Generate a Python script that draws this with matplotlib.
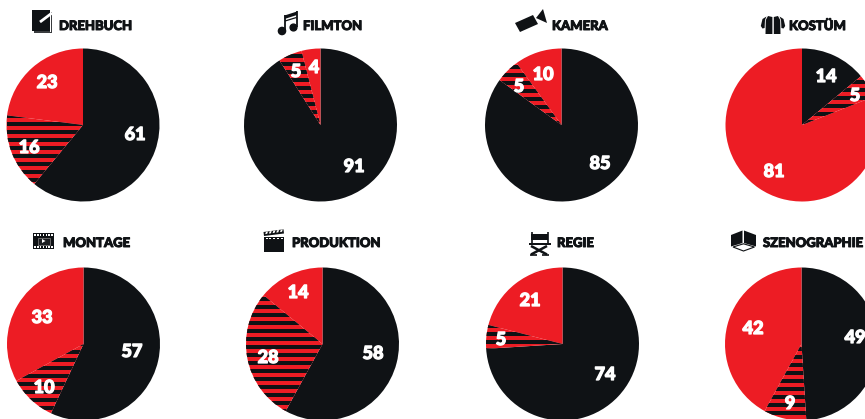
import matplotlib
matplotlib.use("Agg")
from matplotlib import pyplot as plt
from matplotlib import patheffects as pe
from matplotlib.patches import Polygon, Rectangle, Circle

plt.rcParams['font.family'] = ['Lato', 'DejaVu Sans']

BLACK = '#0f1215'
RED = '#ed1c24'
W, H = 865, 419

# shares in percent, going clockwise from twelve o'clock
titles = ['DREHBUCH', 'FILMTON', 'KAMERA', 'KOSTÜM',
          'MONTAGE', 'PRODUKTION', 'REGIE', 'SZENOGRAPHIE']
solid_black = [61, 91, 85, 14, 57, 58, 74, 49]
striped = [16, 5, 5, 5, 10, 28, 5, 9]
solid_red = [23, 4, 10, 81, 33, 14, 21, 42]

# layout in pixels
centers = [(83, 125), (320.5, 125), (561.5, 125), (802, 125),
           (83.5, 344), (322.5, 344), (562.5, 344), (801.5, 344)]
radius = 76.5
title_left = [59, 303, 552, 789, 63, 292, 557, 763]
title_y = [25, 25, 25, 25, 242, 242, 242, 242]
black_label_xy = [(135, 133), (354, 165), (600, 162), (826, 75),
                  (132, 350), (373, 352), (605, 373), (855, 336)]
striped_label_xy = [(29, 146), (296, 70), (519, 85), (855, 94),
                    (44, 386), (268, 356), (501, 338), (790, 402)]
red_label_xy = [(47, 81), (314, 66), (543, 73), (774, 170),
                (42, 316), (298, 291), (530, 299), (753, 327)]
stripe_period = 8.0
stripe_height = 3.9
stripe_phase = [7, 3, 6, 5, 0, 3.3, 6, 5.3]

fig = plt.figure(figsize=(W / 100, H / 100), dpi=100)


def draw_pie(i):
    cx, cy = centers[i]
    ax = fig.add_axes([(cx - radius) / W, 1 - (cy + radius) / H, 2 * radius / W, 2 * radius / H])
    values = [solid_black[i], striped[i], solid_red[i]]
    wedges, _ = ax.pie(values, colors=[BLACK, RED, RED], startangle=90, counterclock=False, radius=1)
    ax.set_xlim(-1, 1)
    ax.set_ylim(-1, 1)
    # black bands over the red middle wedge, phase counted downwards from the centre
    step = stripe_period / radius
    n = int(1 / step) + 2
    ys = [-(k * stripe_period + stripe_phase[i]) / radius for k in range(-n, n)]
    bars = ax.barh(ys, [2] * len(ys), height=stripe_height / radius, left=-1, color=BLACK, linewidth=0)
    for b in bars:
        b.set_clip_path(wedges[1])


for i in range(len(titles)):
    draw_pie(i)

# overlay in pixel coordinates for headings, numbers and icons
top = fig.add_axes([0, 0, 1, 1])
top.set_xlim(0, W)
top.set_ylim(H, 0)
top.axis('off')
top.patch.set_alpha(0)


def poly(points, color=BLACK):
    top.add_patch(Polygon(points, closed=True, facecolor=color, edgecolor='none'))


def rect(x, y, w, h, color=BLACK):
    top.add_patch(Rectangle((x, y), w, h, facecolor=color, edgecolor='none'))


def line(x0, y0, x1, y1, lw=1.5, color=BLACK):
    top.plot([x0, x1], [y0, y1], color=color, lw=lw, solid_capstyle='butt')


# script pages
rect(33.5, 12, 18.5, 21, '#3a3c3f')
rect(32, 10, 18, 21.5)
rect(32.8, 31.8, 18, 0.5, 'white')
rect(50.2, 12, 0.6, 20, 'white')
line(40, 22, 52, 13, lw=2, color='white')

# notes
top.add_patch(Circle((282, 31), 3.6, color=BLACK))
top.add_patch(Circle((293.5, 27.5), 3.4, color=BLACK))
line(285, 31, 285, 15.5, lw=1.3)
line(296.5, 27, 296.5, 11.5, lw=1.3)
poly([(284.5, 15.5), (297, 11.5), (297, 15), (284.5, 19)])
line(285, 21, 296.5, 17.5, lw=0.9)

# camera
poly([(515, 23), (533, 15), (538, 24), (520, 32)])
poly([(536, 18), (543, 9), (547, 23)])

# costume: body halves and sleeves with thin gaps
poly([(768, 16), (772.4, 17), (772.4, 34), (765.5, 34), (765.8, 20)])
poly([(778, 16), (773.8, 17), (773.8, 34), (780.5, 34), (780.2, 20)])
poly([(766.5, 16.5), (765, 20), (764.6, 28), (762.5, 28.5), (760.8, 26), (762.5, 19)])
poly([(779.5, 16.5), (781, 20), (781.4, 28), (783.5, 28.5), (785.2, 26), (783.5, 19)])

# film strip
rect(33, 233, 21, 16)
for k in range(7):
    rect(34.3 + k * 2.8, 234.2, 1.5, 1.3, 'white')
    rect(34.3 + k * 2.8, 246.4, 1.5, 1.3, 'white')
top.add_patch(Rectangle((37.5, 237.5), 12, 7, facecolor='#1b1d20', edgecolor='#888888', lw=0.5))
poly([(42, 239), (42, 243), (45.5, 241)], 'white')

# clapperboard
poly([(263.5, 232), (283.5, 229.3), (284, 233.5), (264, 236)])
for k in range(5):
    x = 266 + k * 3.7
    poly([(x, 231.8 - k * 0.5), (x + 2, 231.5 - k * 0.5), (x + 1.2, 233.8 - k * 0.5), (x - 0.8, 234.1 - k * 0.5)], 'white')
rect(264, 237, 20, 3)
for k in range(5):
    rect(265.5 + k * 3.8, 237.6, 2, 1.6, 'white')
rect(264, 240, 20, 12)

# director's chair
line(531.5, 232, 531.5, 244, lw=1.2)
line(547.5, 232, 547.5, 244, lw=1.2)
rect(531, 233.5, 17, 6.5)
rect(528.5, 243, 22, 2.2)
line(531, 254.5, 547, 246, lw=1.8)
line(531, 246, 547, 254.5, lw=1.8)
line(530, 254.5, 537, 254.5, lw=1.2)
line(542, 254.5, 549, 254.5, lw=1.2)

# set walls and floor
poly([(731, 235), (742.5, 230.5), (742.5, 243), (731, 246.5)])
poly([(744, 230.5), (756, 235), (756, 246.5), (744, 243)])
top.add_patch(Polygon([(733, 247), (743.5, 243.8), (754.5, 247), (743.5, 251)], closed=True,
                      facecolor='none', edgecolor=BLACK, lw=0.8))

# Lato tops out at bold here, so a thin outline makes the lettering heavier
for i, t in enumerate(titles):
    txt = top.text(title_left[i], title_y[i], t, ha='left', va='center_baseline', fontsize=9.4,
                   fontweight='black', color=BLACK, clip_on=True)
    txt.set_path_effects([pe.withStroke(linewidth=0.7, foreground=BLACK)])
    for xy, v in ((black_label_xy[i], solid_black[i]),
                  (striped_label_xy[i], striped[i]),
                  (red_label_xy[i], solid_red[i])):
        num = top.text(xy[0], xy[1], str(v), ha='center', va='center_baseline', fontsize=13,
                       fontweight='black', color='white', clip_on=True)
        num.set_path_effects([pe.withStroke(linewidth=0.9, foreground='white')])

fig.savefig('out.png', dpi=100)
